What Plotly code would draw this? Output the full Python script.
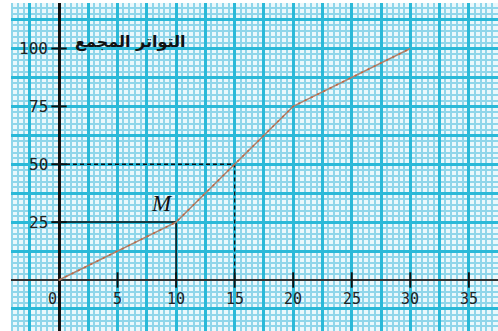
import plotly.graph_objects as go

# cumulative frequency polygon
x_vals = [0, 10, 15, 20, 30]
cum_freq = [0, 25, 50, 75, 100]

x_ticks = [0, 5, 10, 15, 20, 25, 30, 35]
y_ticks = [25, 50, 75, 100]

median_x = 15
median_y = 50
m_x = 10
m_y = 25

title_text = "التواتر المجمع"

fig = go.Figure()

# M guide lines (solid) and median guide lines (dashed)
fig.add_trace(go.Scatter(x=[0, m_x, m_x], y=[m_y, m_y, 0], mode="lines",
                         line=dict(color="#111111", width=1.5), hoverinfo="skip"))
fig.add_trace(go.Scatter(x=[0, median_x, median_x], y=[median_y, median_y, 0], mode="lines",
                         line=dict(color="#111111", width=1.3, dash="4px,3px"), hoverinfo="skip"))

# the polygon
fig.add_trace(go.Scatter(x=x_vals, y=cum_freq, mode="lines",
                         line=dict(color="#a88472", width=1.6)))
fig.add_trace(go.Scatter(x=x_vals, y=cum_freq, mode="lines",
                         line=dict(color="#c8643a", width=1.6, dash="2px,5px")))

# tick marks on the axes
fig.add_trace(go.Scatter(x=x_ticks[1:], y=[0] * (len(x_ticks) - 1), mode="markers",
                         marker=dict(symbol="line-ns", size=11,
                                     line=dict(color="#111111", width=2))))
fig.add_trace(go.Scatter(x=[0] * len(y_ticks), y=y_ticks, mode="markers",
                         marker=dict(symbol="line-ew", size=11,
                                     line=dict(color="#111111", width=2))))

ann = []
for t in x_ticks:
    ann.append(dict(x=t, y=0, yshift=-19, xshift=-7 if t == 0 else 0, text=str(t),
                    showarrow=False, font=dict(family="DejaVu Sans Mono", size=15, color="#222222")))
for t in y_ticks:
    ann.append(dict(x=0, y=t, xshift=-9, xanchor="right", text=str(t),
                    showarrow=False, font=dict(family="DejaVu Sans Mono", size=16, color="#222222")))
ann.append(dict(x=6.1, y=103, text="<b>" + title_text + "</b>", showarrow=False,
                font=dict(family="DejaVu Sans", size=16, color="#111111")))
ann.append(dict(x=8.8, y=33, text="<i>M</i>", showarrow=False,
                font=dict(family="Liberation Serif", size=23, color="#111111")))

fig.update_layout(
    width=498,
    height=331,
    margin=dict(l=11, r=0, t=3, b=0, pad=0),
    paper_bgcolor="white",
    plot_bgcolor="#eaf8fc",
    showlegend=False,
    annotations=ann,
    xaxis=dict(range=[-4.1, 37.49], tick0=0, dtick=2.5, showticklabels=False, ticks="",
               showgrid=True, gridcolor="#2ab9d8", gridwidth=3,
               minor=dict(tick0=0, dtick=0.5, showgrid=True, gridcolor="#8fd6ea", gridwidth=1.6),
               zeroline=True, zerolinecolor="#111111", zerolinewidth=3, showline=False),
    yaxis=dict(range=[-22.03, 119.65], tick0=0, dtick=12.5, showticklabels=False, ticks="",
               showgrid=True, gridcolor="#2ab9d8", gridwidth=3,
               minor=dict(tick0=0, dtick=2.5, showgrid=True, gridcolor="#8fd6ea", gridwidth=1.6),
               zeroline=True, zerolinecolor="#333333", zerolinewidth=2, showline=False),
)

fig.write_html("out.html", config={"displayModeBar": False},
               post_script="document.body.style.margin='0';")
